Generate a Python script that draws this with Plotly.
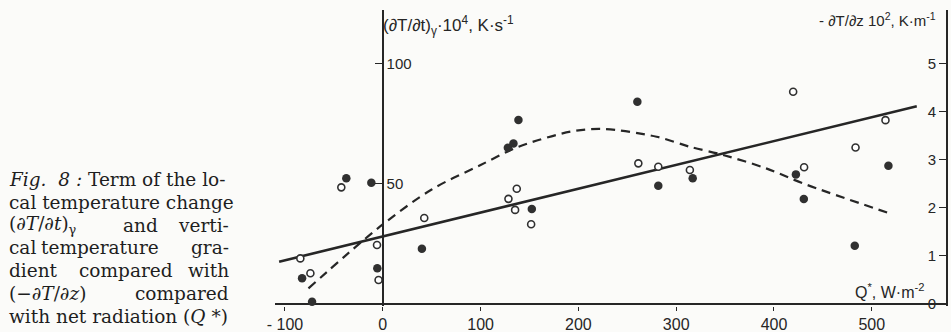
import plotly.graph_objects as go

# ---- data ----
q_filled = [-82.5, -72.3, -37.3, -11.7, -5.6, 40, 127.9, 133.6, 138.7, 152.4,
            260.3, 281.7, 316.9, 422.4, 430.5, 482.6, 517]
dtdt = [10.5, 0.75, 52.2, 50.3, 14.7, 22.8, 64.9, 66.7, 76.5, 39.4,
        84.1, 49.1, 52.2, 53.8, 43.5, 24.1, 57.4]          # (dT/dt)_gamma * 1e4, K/s

q_open = [-84.3, -74, -42.4, -5.9, -4.3, 42.4, 128.5, 135.3, 137, 151.7,
          261.3, 281.7, 314, 419.6, 430.8, 483.4, 514]
grad = [0.94, 0.63, 2.42, 1.22, 0.49, 1.78, 2.18, 1.95, 2.39, 1.65,
        2.92, 2.85, 2.78, 4.41, 2.84, 3.25, 3.82]           # -dT/dz * 1e2, K/m

solid_q = [-106, 546]
solid_v = [0.87, 4.11]

dash_q = [-76, -3, 50, 100, 139, 192, 225, 280, 314, 348, 392, 430, 518]
dash_v = [6.3, 32, 47.5, 57.7, 65.3, 71.6, 72.7, 69.5, 65.3, 61.9, 56.3, 50, 37.6]

x_ticks = [-100, 0, 100, 200, 300, 400, 500]
x_ticktext = ["- 100", "0", "100", "200", "300", "400", "500"]
yl_ticks = [50, 100]
yr_ticks = [0, 1, 2, 3, 4, 5]

# ---- style ----
W, H = 951, 332
INK = "#262626"
BG = "#fbfbf9"
SANS = "Liberation Sans, Arial, sans-serif"
SERIF = "DejaVu Serif, serif"


def fx(p):
    return p / W


def fy(p):
    return 1 - p / H


PX_PER_UNIT = 2.4           # left scale: pixels per unit
y_low = -1.0                # a little room below zero so the zero line shows
y_high = 122.3
yl_range = [y_low, y_high]
yr_range = [y_low / 20, y_high / 20]
x_range = [-110.2, 576.9]

x0 = 275
x1 = 947
y_zero_px = 303.5
ytop = y_zero_px - y_high * PX_PER_UNIT
ybot = y_zero_px - y_low * PX_PER_UNIT
zero_px = x0 + (0 - x_range[0]) / (x_range[1] - x_range[0]) * (x1 - x0)

fig = go.Figure()
fig.add_trace(go.Scatter(x=dash_q, y=dash_v, mode="lines", yaxis="y",
                         line=dict(color=INK, width=2.2, dash="9px,6px",
                                   shape="spline", smoothing=0.9),
                         hoverinfo="skip"))
fig.add_trace(go.Scatter(x=q_filled, y=dtdt, mode="markers", yaxis="y3",
                         cliponaxis=False,
                         marker=dict(size=8.5, color="#303030", line=dict(width=0))))
fig.add_trace(go.Scatter(x=solid_q, y=solid_v, mode="lines", yaxis="y2",
                         line=dict(color=INK, width=2.6), hoverinfo="skip"))
fig.add_trace(go.Scatter(x=q_open, y=grad, mode="markers", yaxis="y2",
                         cliponaxis=False,
                         marker=dict(size=7, color="white",
                                     line=dict(color="#303030", width=1.6))))

common_y = dict(showgrid=False, automargin=False)

fig.update_layout(
    width=W, height=H,
    margin=dict(l=0, r=0, t=0, b=0),
    paper_bgcolor=BG, plot_bgcolor="rgba(0,0,0,0)",
    showlegend=False,
    font=dict(family=SANS, color=INK, size=16),
    xaxis=dict(domain=[fx(x0), fx(x1)], range=x_range,
               anchor="y", side="bottom",
               showline=False,
               ticks="outside", ticklen=4, tickwidth=1.4, tickcolor=INK,
               tickvals=x_ticks, ticktext=x_ticktext,
               tickfont=dict(size=16, family=SANS, color=INK),
               showgrid=False, zeroline=False, automargin=False),
    # base y axis: invisible, its zero line is the Q* axis line
    yaxis=dict(domain=[fy(ybot), fy(ytop)], range=yl_range, anchor="x",
               showline=False, ticks="", showticklabels=False,
               zeroline=True, zerolinecolor=INK, zerolinewidth=1.6, **common_y),
    # visible left scale, standing at Q* = 0
    yaxis3=dict(overlaying="y", range=yl_range,
                anchor="free", position=fx(zero_px), side="right",
                showline=True, linecolor=INK, linewidth=1.6,
                ticks="inside", ticklen=7, tickwidth=1.4, tickcolor=INK,
                tickvals=yl_ticks, zeroline=False,
                tickfont=dict(size=15, family=SANS, color=INK), **common_y),
    yaxis2=dict(overlaying="y", anchor="free", position=fx(x1), side="left",
                range=yr_range,
                showline=True, linecolor=INK, linewidth=1.6,
                ticks="outside", ticklen=7, tickwidth=1.4, tickcolor=INK,
                tickvals=yr_ticks, zeroline=False,
                tickfont=dict(size=15, family=SANS, color=INK), **common_y),
)

ann = []
# axis titles
ann.append(dict(x=fx(381), y=fy(25), xref="paper", yref="paper",
                xanchor="left", yanchor="middle", showarrow=False,
                text="(∂T/∂t)<sub>γ</sub>·10<sup>4</sup>, K·s<sup>-1</sup>",
                font=dict(family=SANS, size=17, color=INK)))
ann.append(dict(x=fx(938), y=fy(20), xref="paper", yref="paper",
                xanchor="right", yanchor="middle", showarrow=False,
                text="- ∂T/∂z 10<sup>2</sup>, K·m<sup>-1</sup>",
                font=dict(family=SANS, size=15, color=INK)))
ann.append(dict(x=fx(926), y=fy(291), xref="paper", yref="paper",
                xanchor="right", yanchor="middle", showarrow=False,
                text="Q<sup>*</sup>, W·m<sup>-2</sup>",
                font=dict(family=SANS, size=16, color=INK)))

# caption (justified look: words placed at line edges)
CAP_L, CAP_R = 7, 231
CS = 18.5
base = [186, 208.7, 231.4, 254.1, 276.8, 299.5, 322.2]
lines = [
    [("<i>Fig.  8 :</i> Term of the lo-", "full")],
    [("cal temperature change", "full")],
    [("(∂<i>T</i>/∂<i>t</i>)<sub>γ</sub>", "l"), ("and", 140), ("verti-", "r")],
    [("cal", "l"), ("temperature", 100), ("gra-", "r")],
    [("dient", "l"), ("compared", 126), ("with", "r")],
    [("(−∂<i>T</i>/∂<i>z</i>)", "l"), ("compared", "r")],
    [("with net radiation (<i>Q</i> *)", "full")],
]
for b, parts in zip(base, lines):
    yc = fy(b - 0.33 * CS)
    for txt, pos in parts:
        if pos in ("full", "l"):
            xa, xp = "left", CAP_L
        elif pos == "r":
            xa, xp = "right", CAP_R
        else:
            xa, xp = "center", pos
        ann.append(dict(x=fx(xp), y=yc, xref="paper", yref="paper",
                        xanchor=xa, yanchor="middle", showarrow=False,
                        text=txt, font=dict(family=SERIF, size=CS, color="#1e1e1e")))

fig.update_layout(annotations=ann)
fig.write_html("out.html")
